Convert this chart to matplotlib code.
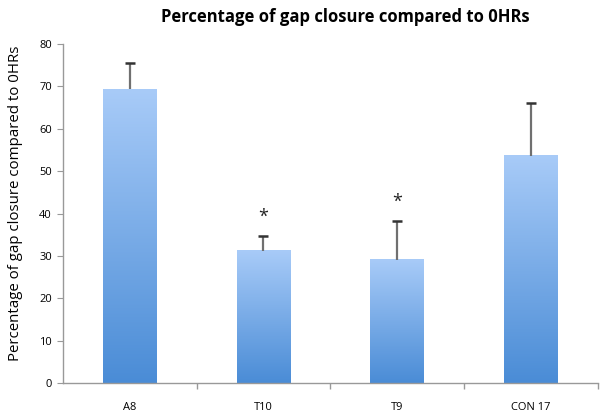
import numpy as np
import matplotlib.pyplot as plt
from matplotlib.colors import LinearSegmentedColormap

plt.rcParams['font.family'] = ['Open Sans', 'DejaVu Sans']

categories = ['A8', 'T10', 'T9', 'CON 17']
values = [69.3, 31.2, 29.1, 53.6]
errors = [6.2, 3.4, 9.1, 12.5]
significant = [False, True, True, False]

fig = plt.figure(figsize=(6.05, 4.15), dpi=100)
ax = fig.add_axes([0.104, 0.077, 0.884, 0.817])

cmap = LinearSegmentedColormap.from_list('barfill', ['#4a8cd6', '#a8cbf8'])
grad = np.linspace(0, 1, 256).reshape(-1, 1)
width = 0.4
x = np.arange(len(categories))

for xi, v, e, sig in zip(x, values, errors, significant):
    ax.imshow(grad, cmap=cmap, origin='lower', aspect='auto',
              extent=[xi - width / 2, xi + width / 2, 0, v], zorder=2)
    # upper error bar only, no cap at the bar top
    ax.vlines(xi, v, v + e, color='#707070', linewidth=1.6, zorder=3)
    ax.plot([xi], [v + e], marker='_', markersize=7, markeredgewidth=1.8,
            color='#333333', zorder=4)
    if sig:
        ax.text(xi, v + e + 2.5, '*', ha='center', va='bottom',
                fontsize=13, color='#222222')

ax.set_xlim(-0.5, len(categories) - 0.5)
ax.set_ylim(0, 80)
ax.set_yticks(range(0, 81, 10))
ax.set_xticks(x)
ax.set_xticklabels(categories)
ax.set_xticks(np.arange(0.5, len(categories) + 0.5, 1), minor=True)
ax.tick_params(axis='x', which='major', length=0, pad=14, labelsize=8)
ax.tick_params(axis='x', which='minor', length=4, color='#999999', width=1)
ax.tick_params(axis='y', length=4, color='#999999', labelsize=8, pad=4)

for side in ['top', 'right']:
    ax.spines[side].set_visible(False)
for side in ['left', 'bottom']:
    ax.spines[side].set_color('#999999')
    ax.spines[side].set_linewidth(1)

ax.set_ylabel('Percentage of gap closure compared to 0HRs', fontsize=10.8)
ax.yaxis.set_label_coords(-0.075, 0.53)
fig.suptitle('Percentage of gap closure compared to 0HRs', fontsize=12,
             fontweight='bold', x=0.57, y=0.98)

fig.savefig('out.png', dpi=100)
